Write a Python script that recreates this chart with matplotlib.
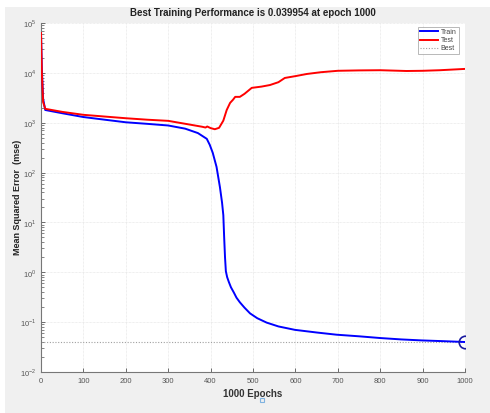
import numpy as np
import matplotlib
matplotlib.use("Agg")
import matplotlib.pyplot as plt
from matplotlib.patches import Rectangle
from matplotlib.lines import Line2D

# ---- data ----
train_epochs = [0, 2, 5, 10, 50, 100, 150, 200, 250, 300, 340, 370, 391, 398, 405, 414,
                422, 427, 430, 432, 434, 436, 439, 443, 448, 455, 461, 469, 480, 493, 510,
                532, 560, 599, 650, 697, 750, 800, 850, 898, 950, 1000]
train_mse = [6.3e4, 1.2e4, 3.0e3, 1.8e3, 1.55e3, 1.3e3, 1.15e3, 1.02e3, 950, 880, 760, 620,
             475, 360, 250, 130, 51, 25, 14, 5, 2.0, 1.05, 0.8, 0.64, 0.5, 0.39, 0.31, 0.25,
             0.195, 0.15, 0.12, 0.098, 0.082, 0.07, 0.062, 0.056, 0.052, 0.048, 0.045,
             0.043, 0.0415, 0.039954]

test_epochs = [0, 2, 5, 10, 50, 100, 150, 200, 250, 300, 350, 380, 388, 392, 400, 410,
               420, 430, 438, 446, 453, 458, 469, 480, 497, 520, 540, 560, 575, 600,
               627, 660, 700, 750, 800, 862, 900, 941, 1000]
test_mse = [6.3e4, 1.0e4, 2.6e3, 1.9e3, 1.65e3, 1.44e3, 1.33e3, 1.23e3, 1.15e3, 1.09e3,
            920, 830, 800, 840, 780, 740, 790, 1.1e3, 1.8e3, 2.5e3, 2.9e3, 3.3e3, 3.3e3,
            3.8e3, 5.0e3, 5.3e3, 5.7e3, 6.5e3, 7.9e3, 8.6e3, 9.5e3, 1.03e4, 1.1e4,
            1.12e4, 1.13e4, 1.09e4, 1.1e4, 1.13e4, 1.2e4]

best_epoch = 1000
best_perf = 0.039954
x_ticks = [0, 100, 200, 300, 400, 500, 600, 700, 800, 900, 1000]
y_ticks = [1e-2, 1e-1, 1e0, 1e1, 1e2, 1e3, 1e4, 1e5]
y_tick_labels = [r"$10^{-2}$", r"$10^{-1}$", r"$10^{0}$", r"$10^{1}$", r"$10^{2}$",
                 r"$10^{3}$", r"$10^{4}$", r"$10^{5}$"]

plt.rcParams['font.family'] = ['Liberation Sans', 'DejaVu Sans']
plt.rcParams['mathtext.fontset'] = 'custom'
plt.rcParams['mathtext.rm'] = 'Liberation Sans'

fig = plt.figure(figsize=(4.9, 4.13), dpi=100)
fig.patch.set_facecolor('white')
fig.patches.append(Rectangle((5 / 490, 0), 485 / 490, 1 - 7 / 413, transform=fig.transFigure,
                             facecolor='#f0f0f0', edgecolor='none', zorder=-10))

ax = fig.add_axes([41 / 490, 1 - 372 / 413, 424 / 490, 349 / 413])
ax.set_facecolor('white')

ax.plot(train_epochs, train_mse, color='#0000ff', lw=1.4, label='Train', zorder=3)
ax.plot(test_epochs, test_mse, color='#ff0000', lw=1.4, label='Test', zorder=4)
ax.plot([0, 1000], [best_perf, best_perf], color='#a0a0a0', lw=0.8, ls=(0, (1, 1.5)),
        label='Best', zorder=2)
ax.plot([best_epoch], [best_perf], marker='o', ms=9, mfc='none', mec='#1a1aa0', mew=1.2,
        zorder=5)

ax.set_yscale('log')
ax.set_xlim(0, 1000)
ax.set_ylim(1e-2, 1e5)
ax.set_xticks(x_ticks)
ax.set_xticklabels([str(v) for v in x_ticks])
ax.set_yticks(y_ticks)
ax.set_yticklabels(y_tick_labels)

ax.tick_params(which='both', direction='in', colors='#555555', labelsize=5.5, top=False,
               right=False)
ax.tick_params(which='major', length=3, width=0.6)
ax.tick_params(which='minor', length=1.8, width=0.5)
ax.tick_params(axis='x', pad=4)

ax.grid(True, which='major', color='#e0e0e0', lw=0.5, ls=(0, (1, 1)))
for s in ['top', 'right']:
    ax.spines[s].set_visible(False)
for s in ['left', 'bottom']:
    ax.spines[s].set_color('#777777')
    ax.spines[s].set_linewidth(0.8)
ax.axvline(1000, color='#aaaaaa', lw=0.6, ls=(0, (1, 1)))

ax.set_title('Best Training Performance is 0.039954 at epoch 1000', fontsize=7,
             fontweight='bold', color='#222222', pad=5)
ax.set_xlabel('1000 Epochs', fontsize=7, fontweight='bold', color='#333333', labelpad=3)
ax.set_ylabel('Mean Squared Error  (mse)', fontsize=6.5, fontweight='bold', color='#222222')
ax.yaxis.set_label_coords(-0.045, 0.5)

leg = ax.legend(loc='upper right', fontsize=5, frameon=True, fancybox=False,
                handlelength=2.6, handletextpad=0.4, borderpad=0.3, labelspacing=0.15,
                bbox_to_anchor=(0.99, 0.995), borderaxespad=0.3)
leg.get_frame().set_edgecolor('#999999')
leg.get_frame().set_linewidth(0.6)
for t in leg.get_texts():
    t.set_color('#444444')

fig.add_artist(Line2D([262 / 490], [1 - 400 / 413], transform=fig.transFigure, marker='s',
                      ms=3, mfc='none', mec='#7fb2e0', mew=0.8, ls='none'))

fig.savefig('out.png', dpi=100)
